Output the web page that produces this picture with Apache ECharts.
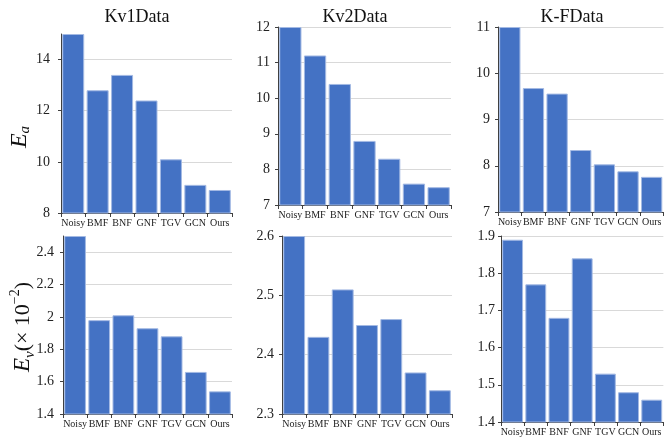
<!DOCTYPE html>
<html>
<head>
<meta charset="utf-8">
<script src="https://cdn.jsdelivr.net/npm/echarts@6/dist/echarts.min.js"></script>
<style>
  html, body { margin: 0; padding: 0; background: #fff; }
  #chart { width: 664px; height: 439px; }
</style>
</head>
<body>
<div id="chart"></div>
<script>
// Methods compared on each dataset
const methods = ['Noisy', 'BMF', 'BNF', 'GNF', 'TGV', 'GCN', 'Ours'];
const datasets = ['Kv1Data', 'Kv2Data', 'K-FData'];

// Mean angular error E_a
const eaKv1 = [15, 12.8, 13.4, 12.4, 10.1, 9.1, 8.9];
const eaKv2 = [12, 11.2, 10.4, 8.8, 8.3, 7.6, 7.5];
const eaKF  = [11, 9.68, 9.56, 8.34, 8.03, 7.88, 7.76];

// Vertex error E_v (x 10^-2)
const evKv1 = [2.5, 1.98, 2.01, 1.93, 1.88, 1.66, 1.54];
const evKv2 = [2.6, 2.43, 2.51, 2.45, 2.46, 2.37, 2.34];
const evKF  = [1.89, 1.77, 1.68, 1.84, 1.53, 1.48, 1.46];

// Value-axis ranges per panel: [min, max, interval]
const axisRanges = [
  [8, 15, 2], [7, 12, 1], [7, 11, 1],
  [1.4, 2.5, 0.2], [2.3, 2.6, 0.1], [1.4, 1.9, 0.1]
];
const panelData = [eaKv1, eaKv2, eaKF, evKv1, evKv2, evKF];

const SERIF = '"Liberation Serif", "Times New Roman", serif';

const grids = [
  { left: 61,  top: 34,  width: 171, height: 179 },
  { left: 278, top: 27,  width: 173, height: 178 },
  { left: 498, top: 27,  width: 171, height: 185 },
  { left: 63,  top: 236, width: 169, height: 178 },
  { left: 282, top: 236, width: 170, height: 178 },
  { left: 501, top: 236, width: 169, height: 186 }
];
const yLabelMargin = [11, 8, 8, 9, 8, 6];

const xAxes = grids.map((g, i) => ({
  type: 'category',
  gridIndex: i,
  data: methods,
  axisLine: { lineStyle: { color: '#404040', width: 1 } },
  axisTick: { show: true, length: 4, alignWithLabel: false, lineStyle: { color: '#404040' } },
  axisLabel: { interval: 0, fontFamily: SERIF, fontSize: 10, color: '#222', margin: 5 }
}));

const yAxes = grids.map((g, i) => ({
  type: 'value',
  gridIndex: i,
  min: axisRanges[i][0],
  max: axisRanges[i][1],
  interval: axisRanges[i][2],
  axisLine: { show: true, lineStyle: { color: '#404040', width: 1 } },
  axisTick: { show: true, length: 3, lineStyle: { color: '#404040' } },
  axisLabel: {
    fontFamily: SERIF, fontSize: 14, color: '#222',
    margin: yLabelMargin[i], showMaxLabel: i === 0 || i === 3 ? false : true
  },
  splitLine: {
    show: true, showMinLine: false,
    showMaxLine: !(i === 0 || i === 3),
    lineStyle: { color: '#d9d9d9', width: 1 }
  }
}));

const series = panelData.map((d, i) => ({
  type: 'bar',
  xAxisIndex: i,
  yAxisIndex: i,
  data: d,
  barCategoryGap: '10%',
  itemStyle: { color: '#4472C4', borderColor: '#a3b9e3', borderWidth: 1 }
}));

const titleX = [137, 355, 572];
const graphics = datasets.map((name, i) => ({
  type: 'text',
  x: titleX[i],
  y: 17,
  style: {
    text: name,
    font: '18px ' + SERIF,
    fill: '#111',
    align: 'center',
    verticalAlign: 'middle'
  }
}));

// Rotated y-axis titles for each row
graphics.push({
  type: 'text',
  x: 20,
  y: 137,
  rotation: Math.PI / 2,
  style: {
    text: '{e|E}{s|a}',
    align: 'center',
    verticalAlign: 'middle',
    fill: '#111',
    rich: {
      e: { fontFamily: SERIF, fontStyle: 'italic', fontSize: 24, lineHeight: 26, fill: '#111' },
      s: { fontFamily: SERIF, fontStyle: 'italic', fontSize: 15, lineHeight: 14, verticalAlign: 'bottom', fill: '#111' }
    }
  }
});
graphics.push({
  type: 'text',
  x: 23,
  y: 327,
  rotation: Math.PI / 2,
  style: {
    text: '{e|E}{s|v}{n|(× 10}{p|−2}{n|)}',
    align: 'center',
    verticalAlign: 'middle',
    fill: '#111',
    rich: {
      e: { fontFamily: SERIF, fontStyle: 'italic', fontSize: 23, lineHeight: 30, fill: '#111' },
      s: { fontFamily: SERIF, fontStyle: 'italic', fontSize: 15, lineHeight: 14, verticalAlign: 'bottom', fill: '#111' },
      n: { fontFamily: SERIF, fontSize: 22, lineHeight: 30, fill: '#111' },
      p: { fontFamily: SERIF, fontSize: 14, lineHeight: 14, verticalAlign: 'top', fill: '#111' }
    }
  }
});

const chart = echarts.init(document.getElementById('chart'), null, { renderer: 'canvas' });
chart.setOption({
  animation: false,
  backgroundColor: '#fff',
  grid: grids,
  xAxis: xAxes,
  yAxis: yAxes,
  series: series,
  graphic: graphics
});
</script>
</body>
</html>
